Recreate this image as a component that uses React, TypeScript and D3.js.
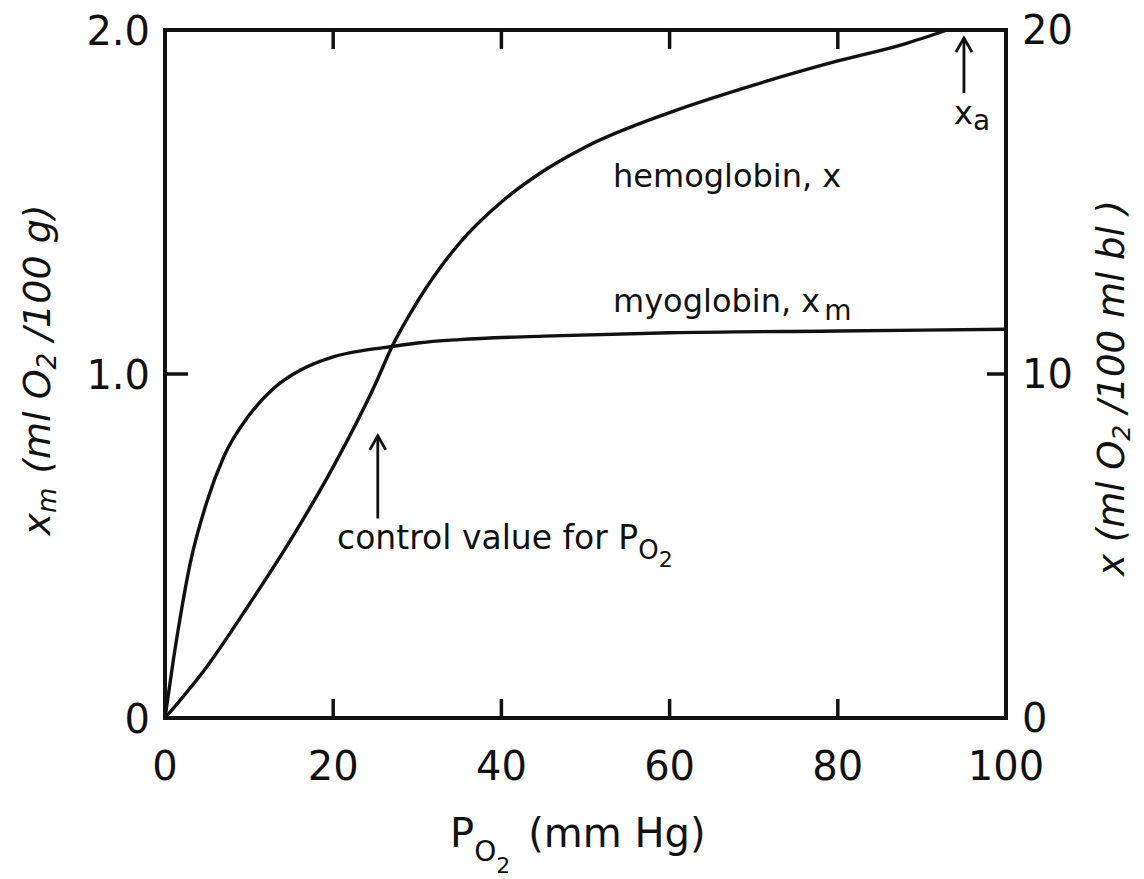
import React from "react";
import * as d3 from "d3";

// P_O2 (mm Hg)
const myoP = [0, 1, 2, 3, 5, 7, 10, 13, 16, 20, 24, 27, 30, 35, 45, 60, 80, 100];
// myoglobin x_m (ml O2/100 g), left axis
const myoX = [0, 0.17, 0.32, 0.45, 0.63, 0.76, 0.88, 0.96, 1.01, 1.05, 1.07, 1.08, 1.09, 1.1, 1.11, 1.12, 1.125, 1.13];
// hemoglobin x (ml O2/100 ml bl), right axis
const hbP = [0, 5, 10, 15, 20, 25, 27, 30, 35, 40, 45, 50, 60, 70, 80, 88, 93];
const hbX = [0, 1.5, 3.3, 5.2, 7.3, 9.7, 10.8, 12.1, 13.8, 15.0, 15.9, 16.6, 17.6, 18.4, 19.1, 19.6, 20.0];

const xTicks = [0, 20, 40, 60, 80, 100];
const leftTicks = [0, 1.0, 2.0];
const leftTickLabels = ["0", "1.0", "2.0"];
const rightTicks = [0, 10, 20];

const controlP = 25.3;
const arterialP = 95;

const FONT = "'DejaVu Sans', sans-serif";
const INK = "#111";

export default function App() {
  const x = d3.scaleLinear().domain([0, 100]).range([165, 1006]);
  const yL = d3.scaleLinear().domain([0, 2]).range([718, 30]);
  const yR = d3.scaleLinear().domain([0, 20]).range([718, 30]);

  const myoLine = d3
    .line<number>()
    .x((_, i) => x(myoP[i]))
    .y((d) => yL(d))
    .curve(d3.curveMonotoneX);
  const hbLine = d3
    .line<number>()
    .x((_, i) => x(hbP[i]))
    .y((d) => yR(d))
    .curve(d3.curveMonotoneX);

  const x0 = x(0), x1 = x(100), yb = yL(0), yt = yL(2);
  const tickLen = 19;

  return (
    <svg width={1144} height={879} style={{ position: "absolute", left: 0, top: 0, background: "#fff" }}>
      <rect x={0} y={0} width={1144} height={879} fill="#fff" />
      {/* frame */}
      <rect x={x0} y={yt} width={x1 - x0} height={yb - yt} fill="none" stroke={INK} strokeWidth={4} />
      {/* x ticks top & bottom */}
      {xTicks.slice(1, -1).map((t) => (
        <g key={t}>
          <line x1={x(t)} x2={x(t)} y1={yb} y2={yb - tickLen} stroke={INK} strokeWidth={3.5} />
          <line x1={x(t)} x2={x(t)} y1={yt} y2={yt + tickLen} stroke={INK} strokeWidth={3.5} />
        </g>
      ))}
      {/* y ticks */}
      <line x1={x0} x2={x0 + tickLen + 4} y1={yL(1)} y2={yL(1)} stroke={INK} strokeWidth={3.5} />
      <line x1={x1} x2={x1 - tickLen} y1={yR(10)} y2={yR(10)} stroke={INK} strokeWidth={3.5} />

      {/* curves */}
      <path d={myoLine(myoX) || ""} fill="none" stroke={INK} strokeWidth={3.4} />
      <path d={hbLine(hbX) || ""} fill="none" stroke={INK} strokeWidth={3.4} />

      {/* x tick labels */}
      {xTicks.map((t) => (
        <text key={t} x={x(t)} y={780} fontFamily={FONT} fontSize={40} textAnchor="middle" fill={INK}>
          {t}
        </text>
      ))}
      {/* left tick labels */}
      {leftTicks.map((t, i) => (
        <text key={t} x={150} y={yL(t) + 15} fontFamily={FONT} fontSize={40} textAnchor="end" fill={INK}>
          {leftTickLabels[i]}
        </text>
      ))}
      {/* right tick labels */}
      {rightTicks.map((t) => (
        <text key={t} x={1022} y={yR(t) + 14} fontFamily={FONT} fontSize={40} textAnchor="start" fill={INK}>
          {t}
        </text>
      ))}

      {/* x axis label */}
      <text x={450} y={847} fontFamily={FONT} fontSize={40} fill={INK}>
        P
        <tspan fontSize={28} dy={14}>O</tspan>
        <tspan fontSize={22} dy={12}>2</tspan>
        <tspan dy={-26} dx={18}>(mm Hg)</tspan>
      </text>

      {/* left axis label */}
      <text
        transform={`translate(50,370) rotate(-90)`}
        fontFamily={FONT}
        fontSize={38}
        fontStyle="italic"
        textAnchor="middle"
        fill={INK}
      >
        x<tspan fontSize={26} dy={6}>m</tspan>
        <tspan dy={-6} dx={14}>(ml O</tspan>
        <tspan fontSize={26} dy={6}>2</tspan>
        <tspan dy={-6}> /100 g)</tspan>
      </text>

      {/* right axis label */}
      <text
        transform={`translate(1124,388) rotate(-90)`}
        fontFamily={FONT}
        fontSize={37}
        fontStyle="italic"
        textAnchor="middle"
        fill={INK}
      >
        x (ml O<tspan fontSize={25} dy={6}>2</tspan>
        <tspan dy={-6}> /100 ml bl )</tspan>
      </text>

      {/* annotations */}
      <text x={613} y={187} fontFamily={FONT} fontSize={32} fill={INK}>
        hemoglobin, x
      </text>
      <text x={613} y={312} fontFamily={FONT} fontSize={32} fill={INK}>
        myoglobin, x<tspan fontSize={28} dy={8} dx={4}>m</tspan>
      </text>

      {/* control value arrow */}
      <line x1={x(controlP)} x2={x(controlP)} y1={yL(0.58)} y2={yL(0.82)} stroke={INK} strokeWidth={2.8} />
      <path
        d={`M${x(controlP) - 8},${yL(0.82) + 14} L${x(controlP)},${yL(0.82)} L${x(controlP) + 8},${yL(0.82) + 14}`}
        fill="none"
        stroke={INK}
        strokeWidth={2.8}
      />
      <text x={337} y={549} fontFamily={FONT} fontSize={33} fill={INK}>
        control value for P
        <tspan fontSize={26} dy={10}>O</tspan>
        <tspan fontSize={22} dy={8}>2</tspan>
      </text>

      {/* x_a arrow */}
      <line x1={x(arterialP)} x2={x(arterialP)} y1={93} y2={38} stroke={INK} strokeWidth={2.8} />
      <path d={`M${x(arterialP) - 8},52 L${x(arterialP)},38 L${x(arterialP) + 8},52`} fill="none" stroke={INK} strokeWidth={2.8} />
      <text x={x(arterialP) - 10} y={124} fontFamily={FONT} fontSize={32} fill={INK}>
        x<tspan fontSize={28} dy={6}>a</tspan>
      </text>
    </svg>
  );
}
